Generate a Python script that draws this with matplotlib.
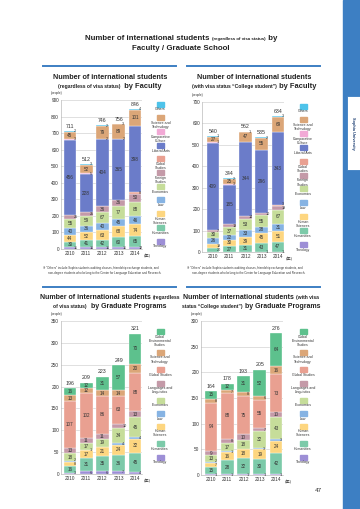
import matplotlib

matplotlib.use("Agg")
import matplotlib.pyplot as plt  # noqa: E402
from matplotlib.lines import Line2D  # noqa: E402
from matplotlib.patches import Rectangle  # noqa: E402

plt.rcParams["font.family"] = ["Liberation Sans", "DejaVu Sans"]

W, H = 360, 509
BLUE = "#3d7fc3"
YEARS = ["2010", "2011", "2012", "2013", "2014"]

# Faculty charts: categories bottom -> top of each stack
FAC_CATS = ["Theology", "Humanities", "Human\nSciences", "Law", "Economics",
            "Foreign\nStudies", "Global\nStudies", "Liberal Arts",
            "Comparative\nCulture", "Science and\nTechnology", "Others"]
FAC_COLORS = ["#9d8fd6", "#7ccaa9", "#fdd680", "#86b3e3", "#c6dd9a",
              "#c49aa8", "#e9a091", "#6b7cc9", "#f2a9d6", "#dba678", "#4ec3ea"]
# one row per category, one column per year
FAC_ALL = [
    [11, 11, 11, 11, 12],
    [30, 41, 42, 60, 65],
    [44, 52, 63, 68, 74],
    [40, 36, 40, 45, 46],
    [55, 59, 67, 77, 88],
    [25, 25, 36, 36, 50],
    [0, 0, 0, 0, 8],
    [456, 228, 404, 365, 398],
    [3, 5, 2, 2, 0],
    [45, 52, 79, 89, 101],
    [2, 3, 2, 3, 4],
]
FAC_VISA = [
    [0, 0, 0, 1, 1],
    [20, 27, 31, 43, 47],
    [19, 30, 39, 45, 51],
    [26, 22, 33, 28, 31],
    [30, 37, 53, 55, 67],
    [7, 13, 14, 10, 19],
    [0, 0, 0, 0, 3],
    [409, 185, 344, 296, 343],
    [1, 3, 0, 0, 0],
    [27, 25, 47, 55, 69],
    [1, 2, 1, 2, 3],
]

# Graduate programs
GRAD_CATS = ["Theology", "Humanities", "Human\nSciences", "Law", "Economics",
             "Languages and\nLinguistics", "Global Studies",
             "Science and\nTechnology", "Global\nEnvironmental\nStudies"]
GRAD_COLORS = ["#9d8fd6", "#7ccaa9", "#fdd680", "#86b3e3", "#c6dd9a",
               "#c49aa8", "#e9a091", "#dba678", "#5dc18d"]
GRAD_ALL = [
    [3, 6, 6, 7, 4],
    [16, 31, 35, 36, 45],
    [8, 17, 21, 24, 32],
    [2, 1, 0, 4, 4],
    [18, 17, 19, 34, 45],
    [13, 11, 11, 10, 13],
    [107, 102, 86, 63, 88],
    [13, 12, 14, 14, 20],
    [16, 12, 31, 57, 70],
]
GRAD_VISA = [
    [1, 1, 1, 1, 1],
    [15, 28, 32, 30, 42],
    [7, 16, 18, 19, 24],
    [2, 1, 0, 3, 3],
    [13, 17, 18, 32, 43],
    [9, 8, 10, 7, 10],
    [94, 88, 75, 55, 73],
    [8, 7, 8, 6, 16],
    [15, 12, 31, 52, 64],
]


def fx(px):
    return px / W


def fy(py):
    return 1 - py / H


def rich(fig, cx, y, parts, color="#222"):
    """Centre a line made of differently sized text runs at pixel (cx, y)."""
    r = fig.canvas.get_renderer()
    texts = [fig.text(0, fy(y), s, fontsize=sz, fontweight=wt, va="baseline",
                      ha="left", color=color) for s, sz, wt in parts]
    widths = [t.get_window_extent(r).width for t in texts]
    x = cx - sum(widths) / 2
    for t, w in zip(texts, widths):
        t.set_x(fx(x))
        x += w


def stacked(fig, box, xlim, ymax, step, data, colors, yr_unit_x):
    left, right, top, bottom = box
    ax = fig.add_axes([fx(left), fy(bottom), (right - left) / W, (bottom - top) / H])
    px_per_unit = (bottom - top) / ymax
    gap = 3.6 / px_per_unit  # min spacing between small side labels, data units
    for i in range(len(YEARS)):
        base = 0
        last_small = None
        for row, c in zip(data, colors):
            v = row[i]
            if v <= 0:
                continue
            ax.bar(i, v, bottom=base, width=0.78, color=c, edgecolor="white", lw=0.25, zorder=3)
            mid = base + v / 2
            if v * px_per_unit >= 4.5:
                ax.text(i, mid, str(v), ha="center", va="center", fontsize=3.3,
                        color="#333", zorder=4)
            else:
                y = mid
                if last_small is not None and y - last_small < gap:
                    y = last_small + gap
                ax.text(i + 0.22, y, str(v), ha="left", va="center", fontsize=2.7,
                        color="#333", zorder=4)
                last_small = y
            base += v
        ax.text(i, base + ymax * 0.015, str(base), ha="center", va="bottom",
                fontsize=3.8, color="#333")
    ax.set_xlim(*xlim)
    ax.set_ylim(0, ymax)
    ax.set_yticks(range(0, ymax + 1, step))
    ax.set_xticks(range(len(YEARS)))
    ax.set_xticklabels(YEARS)
    ax.tick_params(length=0, labelsize=3.4, labelcolor="#333", pad=1.5)
    ax.grid(axis="y", color="#c8c8c8", lw=0.4, zorder=0)
    for s in ["top", "right"]:
        ax.spines[s].set_visible(False)
    for s in ["left", "bottom"]:
        ax.spines[s].set_color("#aaa")
        ax.spines[s].set_linewidth(0.4)
    fig.text(fx(left - 10), fy(top - 6), "(people)", fontsize=2.3, color="#333")
    fig.text(fx(yr_unit_x), fy(bottom + 7), "(年)", fontsize=3,
             family=["Noto Sans CJK JP", "DejaVu Sans"], color="#333", va="center")
    return ax


def legend(fig, cx, ys, labels, colors):
    for y, lab, c in zip(ys, labels, colors):
        fig.add_artist(Rectangle((fx(cx - 3.5), fy(y + 2.5)), 7 / W, 5 / H,
                                 transform=fig.transFigure, color=c))
        fig.text(fx(cx), fy(y + 3.5), lab, ha="center", va="top", fontsize=2.5,
                 linespacing=1.0, color="#333")


fig = plt.figure(figsize=(W / 100, H / 100), dpi=100)

# side bar
fig.add_artist(Rectangle((fx(343), 0), 17 / W, 1, transform=fig.transFigure, color=BLUE))
fig.add_artist(Rectangle((fx(347), fy(170)), 13 / W, 74 / H, transform=fig.transFigure,
                         facecolor="white", edgecolor=BLUE, lw=0.6))
fig.text(fx(353), fy(133), "Sophia University", rotation=-90, ha="center", va="center",
         fontsize=2.8, fontweight="bold", color="#1d3f73")

# main title
rich(fig, 181, 40, [("Number of international students ", 5.7, "bold"),
                    ("(regardless of visa status)", 3.2, "bold"), (" by", 5.7, "bold")])
rich(fig, 181, 50, [("Faculty / Graduate School", 5.7, "bold")])

# panel rules
for x0, x1, y in [(43, 176, 66), (187, 320, 66), (43, 176, 287), (187, 320, 287)]:
    fig.add_artist(Line2D([fx(x0), fx(x1)], [fy(y), fy(y)], lw=1.4, color=BLUE,
                          transform=fig.transFigure))

# panel titles
rich(fig, 110, 79, [("Number of international students", 5.2, "bold")])
rich(fig, 110, 88, [("(regardless of visa status)", 3.6, "bold"), ("  by Faculty", 5.4, "bold")])
rich(fig, 254, 79, [("Number of international students", 5.2, "bold")])
rich(fig, 254, 88, [("(with visa status \u201cCollege student\u201d)", 3.6, "bold"),
                    (" by Faculty", 5.4, "bold")])
rich(fig, 110, 299, [("Number of international students ", 5.0, "bold"),
                     ("(regardless", 3.6, "bold")])
rich(fig, 110, 308, [("of visa status)", 3.6, "bold"), ("  by Graduate Programs", 5.0, "bold")])
rich(fig, 251, 299, [("Number of international students ", 5.0, "bold"),
                     ("(with visa", 3.6, "bold")])
rich(fig, 251, 308, [("status \u201cCollege student\u201d)", 3.6, "bold"),
                     (" by Graduate Programs", 5.0, "bold")])

stacked(fig, (61, 142, 100, 249), (-0.55, 4.43), 900, 100, FAC_ALL, FAC_COLORS, 144)
stacked(fig, (202, 284, 102, 252), (-0.68, 4.37), 700, 100, FAC_VISA, FAC_COLORS, 286)
stacked(fig, (61, 142, 321, 474), (-0.55, 4.43), 350, 50, GRAD_ALL, GRAD_COLORS, 144)
stacked(fig, (201, 283, 321, 475), (-0.62, 4.43), 300, 50, GRAD_VISA, GRAD_COLORS, 285)

fac_labels = FAC_CATS[::-1]
fac_colors = FAC_COLORS[::-1]
legend(fig, 160.5, [104 + 13.7 * i for i in range(11)], fac_labels, fac_colors)
legend(fig, 303, [106 + 13.8 * i for i in range(11)], fac_labels, fac_colors)
grad_ys = [331, 352, 369, 383, 400, 413, 426, 443, 457]
legend(fig, 160, grad_ys, GRAD_CATS[::-1], GRAD_COLORS[::-1])
legend(fig, 303, grad_ys, GRAD_CATS[::-1], GRAD_COLORS[::-1])

note1 = ("\u203b \u201cOthers\u201d include Sophia students auditing classes, "
         "friendship exchange students, and")
note2 = "non-degree students who belong to the Center for Language Education and Research."
for x0 in (43, 187):
    fig.text(fx(x0), fy(268), note1, fontsize=2.1, color="#333", va="center")
    fig.text(fx(x0 + 5), fy(273), note2, fontsize=2.1, color="#333", va="center")

fig.text(fx(318), fy(490), "47", fontsize=4.6, color="#333", ha="center", va="center")

fig.savefig("out.png", dpi=100)
